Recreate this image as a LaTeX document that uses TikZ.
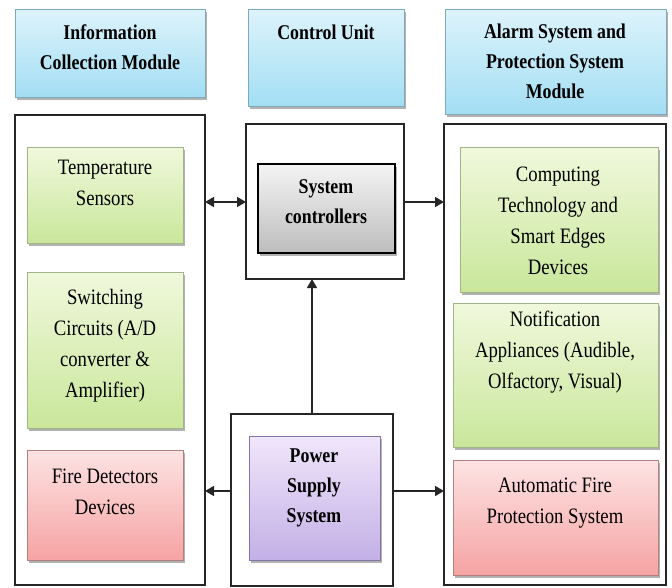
\documentclass[tikz,border=0pt]{standalone}
\usepackage{fontspec}
\setmainfont{Liberation Serif}
\newfontfamily\narrowserif{Liberation Serif}[FakeStretch=0.85]
\usetikzlibrary{shadows,arrows.meta,calc}
\definecolor{hdrtop}{HTML}{DDF3FB}
\definecolor{hdrbot}{HTML}{A3DEF4}
\definecolor{hdrline}{HTML}{7FA8B8}
\definecolor{grtop}{HTML}{F0F8DC}
\definecolor{grbot}{HTML}{C9E79B}
\definecolor{grline}{HTML}{A3B587}
\definecolor{rdtop}{HTML}{FDE3E3}
\definecolor{rdbot}{HTML}{F6A3A3}
\definecolor{rdline}{HTML}{B07F7F}
\definecolor{gytop}{HTML}{F4F4F4}
\definecolor{gybot}{HTML}{BDBDBD}
\definecolor{pptop}{HTML}{F0E6FB}
\definecolor{ppbot}{HTML}{C3B0E6}
\definecolor{ppline}{HTML}{8474A8}
\tikzset{
  base/.style={rectangle, inner sep=0pt, outer sep=0pt, anchor=north west},
  shad/.style={drop shadow={shadow xshift=1.5pt, shadow yshift=-3pt, fill=black, opacity=0.3}},
  hdrbox/.style={base, shad, draw=hdrline, line width=0.8pt, top color=hdrtop, bottom color=hdrbot},
  grbox/.style={base, shad, draw=grline, line width=0.8pt, top color=grtop, bottom color=grbot},
  rdbox/.style={base, shad, draw=rdline, line width=0.8pt, top color=rdtop, bottom color=rdbot},
  gybox/.style={base, shad, draw=black, line width=1.6pt, top color=gytop, bottom color=gybot},
  ppbox/.style={base, shad, draw=ppline, line width=0.8pt, top color=pptop, bottom color=ppbot},
  contbox/.style={base, draw=black!85, line width=1.4pt, fill=white},
  txt/.style={align=center, inner sep=0pt, font=\narrowserif\fontsize{22}{31}\selectfont, text=black},
  btxt/.style={align=center, inner sep=0pt, font=\narrowserif\fontsize{21}{30}\selectfont\bfseries, text=black},
  arr/.style={-{Triangle[length=9pt,width=10pt]}, line width=1.6pt, black!85},
  arrb/.style={{Triangle[length=9pt,width=10pt]}-{Triangle[length=9pt,width=10pt]}, line width=1.6pt, black!85},
}
\begin{document}
\begin{tikzpicture}[x=1pt,y=-1pt]
\useasboundingbox[fill=white] (0,0) rectangle (672,587);

% headers
\node[hdrbox, minimum width=190pt, minimum height=88pt] (hdrL) at (15,9) {};
\node[hdrbox, minimum width=156pt, minimum height=97pt] (hdrC) at (248,9) {};
\node[hdrbox, minimum width=221pt, minimum height=105pt] (hdrR) at (445,9) {};
\node[btxt] (hdrLt) at (110,47) {Information\\Collection Module};
\node[btxt] (hdrCt) at (326,32) {Control Unit};
\node[btxt] (hdrRt) at (555,61) {Alarm System and\\Protection System\\Module};

% containers
\node[contbox, minimum width=190pt, minimum height=470pt] (contL) at (15,115) {};
\node[contbox, minimum width=158pt, minimum height=155pt] (contC) at (246,124) {};
\node[contbox, minimum width=162pt, minimum height=172pt] (contP) at (231,414) {};
\node[contbox, minimum width=222pt, minimum height=461pt] (contR) at (444,124) {};

% left column
\node[grbox, minimum width=156pt, minimum height=96pt] (temp) at (27,147) {};
\node[txt] (tempt) at (105,183) {Temperature\\Sensors};
\node[grbox, minimum width=156pt, minimum height=156pt] (switch) at (27,272) {};
\node[txt] (switcht) at (105,346) {Switching\\Circuits (A/D\\converter \&\\Amplifier)};
\node[rdbox, minimum width=156pt, minimum height=110pt] (fire) at (27,450) {};
\node[txt] (firet) at (105,492) {Fire Detectors\\Devices};

% centre
\node[gybox, minimum width=137pt, minimum height=89pt] (sysc) at (258,164) {};
\node[btxt] (sysct) at (326,202) {System\\controllers};
\node[ppbox, minimum width=131pt, minimum height=124pt] (power) at (249,436) {};
\node[btxt] (powert) at (314,488) {Power\\Supply\\System};

% right column
\node[grbox, minimum width=198pt, minimum height=145pt] (comp) at (460,147) {};
\node[txt] (compt) at (558,221) {Computing\\Technology and\\Smart Edges\\Devices};
\node[grbox, minimum width=205pt, minimum height=144pt] (notif) at (453,303) {};
\node[txt] (notift) at (555,352) {Notification\\Appliances (Audible,\\Olfactory, Visual)};
\node[rdbox, minimum width=205pt, minimum height=115pt] (auto) at (453,460) {};
\node[txt] (autot) at (555,503) {Automatic Fire\\Protection System};

% connectors
\coordinate (ylevA) at (0,202);
\coordinate (ylevB) at (0,491);
\draw[arrb] (contL.east |- ylevA) -- (contC.west |- ylevA);
\draw[arr] (contC.east |- ylevA) -- (contR.west |- ylevA);
\draw[arr] (contP.north) -- (contP.north |- contC.south);
\draw[arr] (contP.west |- ylevB) -- (contL.east |- ylevB);
\draw[arr] (contP.east |- ylevB) -- (contR.west |- ylevB);
\end{tikzpicture}
\end{document}
